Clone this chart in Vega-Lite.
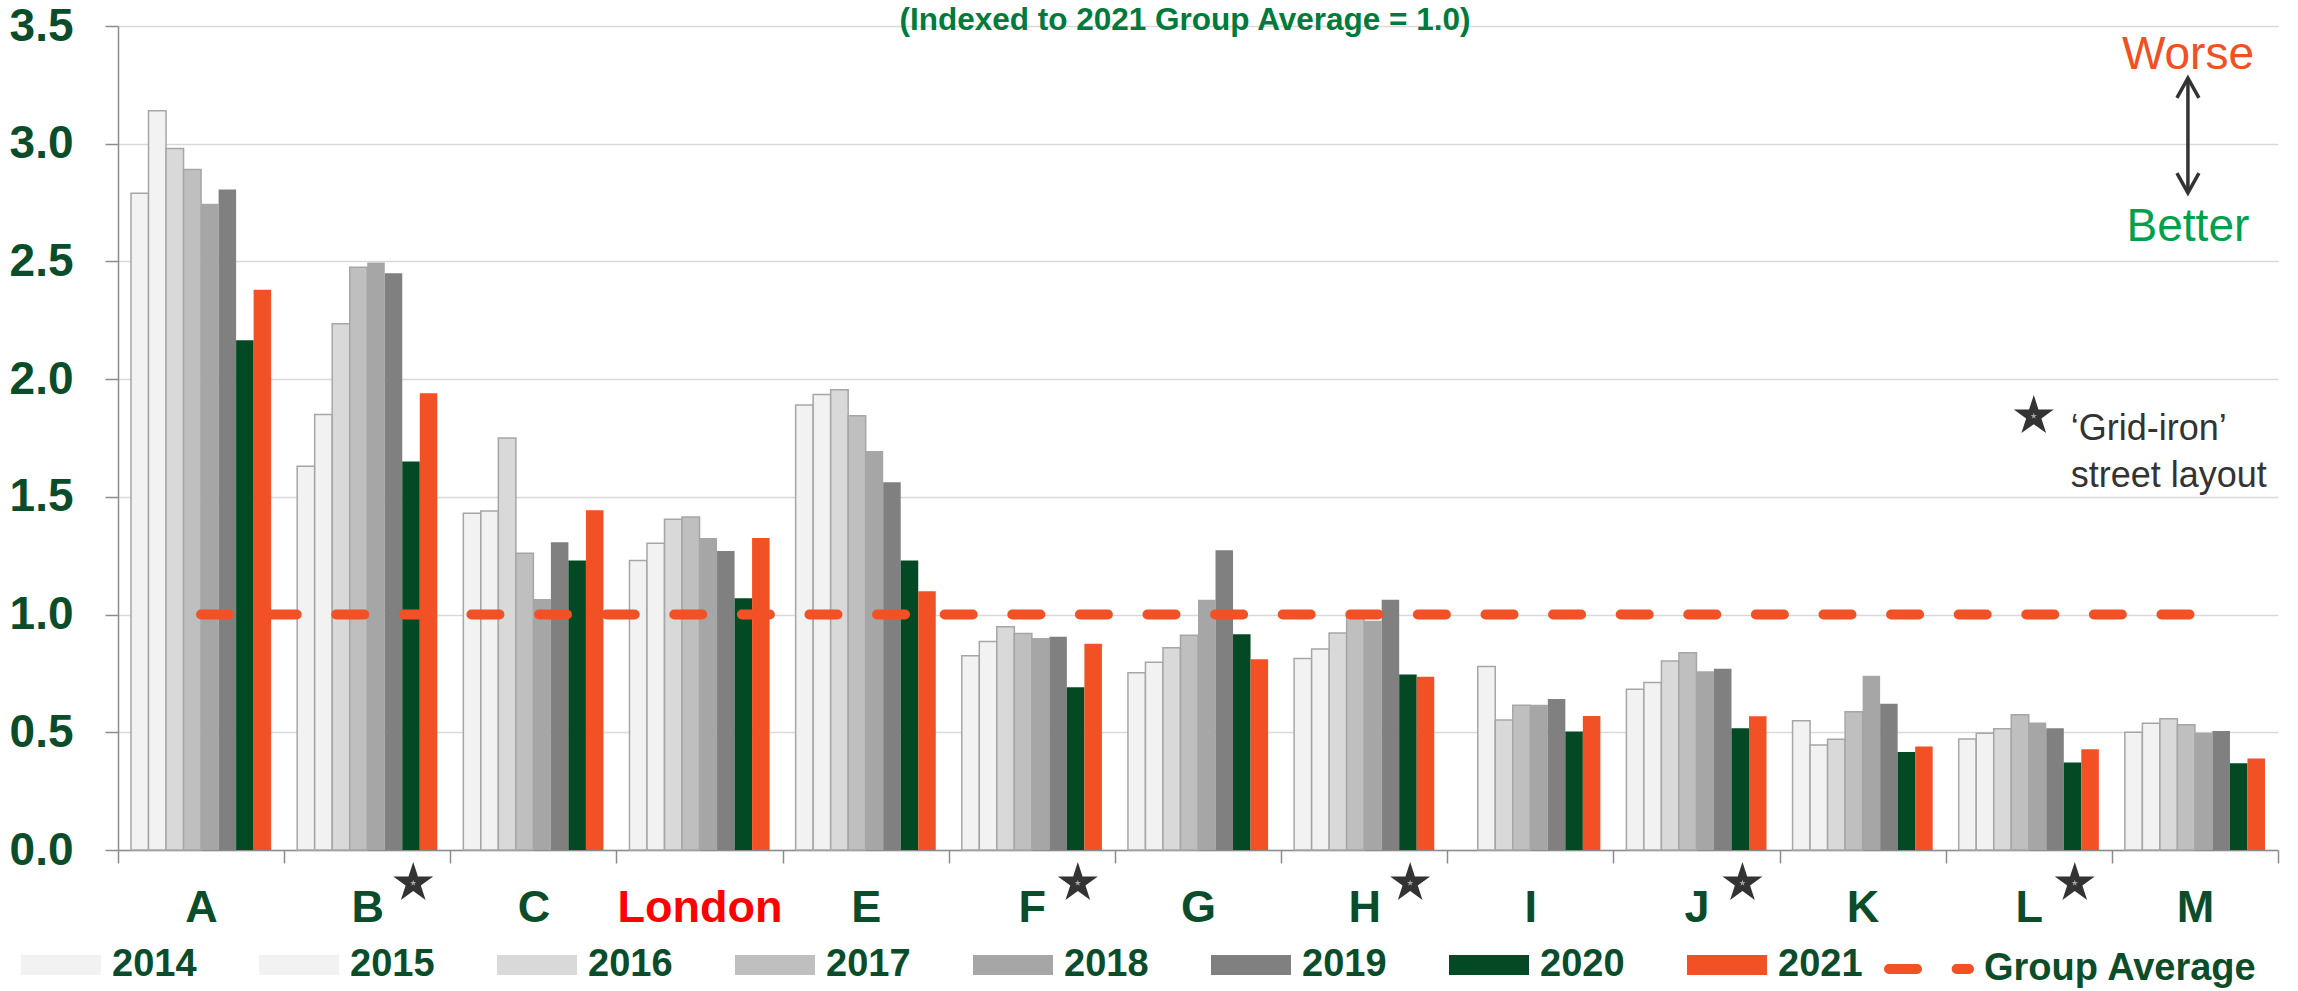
{
  "$schema": "https://vega.github.io/schema/vega-lite/v6.json",
  "autosize": {"type": "none"},
  "padding": {"left": 118, "top": 26, "right": 20, "bottom": 141},
  "width": 2160,
  "height": 824,
  "background": "white",
  "config": {"view": {"stroke": null}, "font": "Liberation Sans"},
  "datasets": {
    "bars": [
      {"city": "A", "year": "2014", "value": 2.79}, {"city": "A", "year": "2015", "value": 3.14}, {"city": "A", "year": "2016", "value": 2.98}, {"city": "A", "year": "2017", "value": 2.89}, {"city": "A", "year": "2018", "value": 2.745}, {"city": "A", "year": "2019", "value": 2.805}, {"city": "A", "year": "2020", "value": 2.165}, {"city": "A", "year": "2021", "value": 2.38},
      {"city": "B", "year": "2014", "value": 1.63}, {"city": "B", "year": "2015", "value": 1.85}, {"city": "B", "year": "2016", "value": 2.235}, {"city": "B", "year": "2017", "value": 2.475}, {"city": "B", "year": "2018", "value": 2.495}, {"city": "B", "year": "2019", "value": 2.45}, {"city": "B", "year": "2020", "value": 1.65}, {"city": "B", "year": "2021", "value": 1.94},
      {"city": "C", "year": "2014", "value": 1.43}, {"city": "C", "year": "2015", "value": 1.44}, {"city": "C", "year": "2016", "value": 1.75}, {"city": "C", "year": "2017", "value": 1.26}, {"city": "C", "year": "2018", "value": 1.066}, {"city": "C", "year": "2019", "value": 1.307}, {"city": "C", "year": "2020", "value": 1.23}, {"city": "C", "year": "2021", "value": 1.443},
      {"city": "London", "year": "2014", "value": 1.23}, {"city": "London", "year": "2015", "value": 1.303}, {"city": "London", "year": "2016", "value": 1.405}, {"city": "London", "year": "2017", "value": 1.414}, {"city": "London", "year": "2018", "value": 1.325}, {"city": "London", "year": "2019", "value": 1.27}, {"city": "London", "year": "2020", "value": 1.069}, {"city": "London", "year": "2021", "value": 1.325},
      {"city": "E", "year": "2014", "value": 1.89}, {"city": "E", "year": "2015", "value": 1.935}, {"city": "E", "year": "2016", "value": 1.955}, {"city": "E", "year": "2017", "value": 1.845}, {"city": "E", "year": "2018", "value": 1.695}, {"city": "E", "year": "2019", "value": 1.562}, {"city": "E", "year": "2020", "value": 1.23}, {"city": "E", "year": "2021", "value": 1.099},
      {"city": "F", "year": "2014", "value": 0.825}, {"city": "F", "year": "2015", "value": 0.886}, {"city": "F", "year": "2016", "value": 0.948}, {"city": "F", "year": "2017", "value": 0.92}, {"city": "F", "year": "2018", "value": 0.9}, {"city": "F", "year": "2019", "value": 0.906}, {"city": "F", "year": "2020", "value": 0.691}, {"city": "F", "year": "2021", "value": 0.876},
      {"city": "G", "year": "2014", "value": 0.753}, {"city": "G", "year": "2015", "value": 0.797}, {"city": "G", "year": "2016", "value": 0.859}, {"city": "G", "year": "2017", "value": 0.912}, {"city": "G", "year": "2018", "value": 1.063}, {"city": "G", "year": "2019", "value": 1.273}, {"city": "G", "year": "2020", "value": 0.916}, {"city": "G", "year": "2021", "value": 0.81},
      {"city": "H", "year": "2014", "value": 0.813}, {"city": "H", "year": "2015", "value": 0.854}, {"city": "H", "year": "2016", "value": 0.922}, {"city": "H", "year": "2017", "value": 0.99}, {"city": "H", "year": "2018", "value": 0.974}, {"city": "H", "year": "2019", "value": 1.063}, {"city": "H", "year": "2020", "value": 0.745}, {"city": "H", "year": "2021", "value": 0.736},
      {"city": "I", "year": "2015", "value": 0.779}, {"city": "I", "year": "2016", "value": 0.552}, {"city": "I", "year": "2017", "value": 0.615}, {"city": "I", "year": "2018", "value": 0.617}, {"city": "I", "year": "2019", "value": 0.641}, {"city": "I", "year": "2020", "value": 0.503}, {"city": "I", "year": "2021", "value": 0.569},
      {"city": "J", "year": "2014", "value": 0.683}, {"city": "J", "year": "2015", "value": 0.711}, {"city": "J", "year": "2016", "value": 0.803}, {"city": "J", "year": "2017", "value": 0.838}, {"city": "J", "year": "2018", "value": 0.759}, {"city": "J", "year": "2019", "value": 0.77}, {"city": "J", "year": "2020", "value": 0.517}, {"city": "J", "year": "2021", "value": 0.568},
      {"city": "K", "year": "2014", "value": 0.549}, {"city": "K", "year": "2015", "value": 0.446}, {"city": "K", "year": "2016", "value": 0.47}, {"city": "K", "year": "2017", "value": 0.587}, {"city": "K", "year": "2018", "value": 0.74}, {"city": "K", "year": "2019", "value": 0.621}, {"city": "K", "year": "2020", "value": 0.416}, {"city": "K", "year": "2021", "value": 0.44},
      {"city": "L", "year": "2014", "value": 0.471}, {"city": "L", "year": "2015", "value": 0.496}, {"city": "L", "year": "2016", "value": 0.515}, {"city": "L", "year": "2017", "value": 0.575}, {"city": "L", "year": "2018", "value": 0.542}, {"city": "L", "year": "2019", "value": 0.517}, {"city": "L", "year": "2020", "value": 0.372}, {"city": "L", "year": "2021", "value": 0.428},
      {"city": "M", "year": "2014", "value": 0.5}, {"city": "M", "year": "2015", "value": 0.538}, {"city": "M", "year": "2016", "value": 0.558}, {"city": "M", "year": "2017", "value": 0.532}, {"city": "M", "year": "2018", "value": 0.498}, {"city": "M", "year": "2019", "value": 0.505}, {"city": "M", "year": "2020", "value": 0.368}, {"city": "M", "year": "2021", "value": 0.389}
    ],
    "avg": [
      {"city": "A", "series": "Group Average", "value": 1.0}, {"city": "B", "series": "Group Average", "value": 1.0}, {"city": "C", "series": "Group Average", "value": 1.0}, {"city": "London", "series": "Group Average", "value": 1.0}, {"city": "E", "series": "Group Average", "value": 1.0}, {"city": "F", "series": "Group Average", "value": 1.0}, {"city": "G", "series": "Group Average", "value": 1.0}, {"city": "H", "series": "Group Average", "value": 1.0}, {"city": "I", "series": "Group Average", "value": 1.0}, {"city": "J", "series": "Group Average", "value": 1.0}, {"city": "K", "series": "Group Average", "value": 1.0}, {"city": "L", "series": "Group Average", "value": 1.0}, {"city": "M", "series": "Group Average", "value": 1.0}
    ],
    "grid": [{"city": "B"}, {"city": "F"}, {"city": "H"}, {"city": "J"}, {"city": "L"}]
  },
  "layer": [
    {
      "data": {"name": "bars"},
      "mark": {"type": "bar", "strokeWidth": 1.5},
      "encoding": {
        "x": {
          "field": "city", "type": "nominal",
          "scale": {"type": "band", "domain": ["A", "B", "C", "London", "E", "F", "G", "H", "I", "J", "K", "L", "M"], "paddingInner": 0, "paddingOuter": 0},
          "axis": {"title": null, "labelAngle": 0, "labelFontSize": 45, "labelFont": "Liberation Sans", "labelFontWeight": "bold", "labelColor": {"expr": "datum.value === 'London' ? '#ff0000' : '#0b4d2a'"}, "labelPadding": 22, "labelBaseline": "top", "ticks": true, "tickBand": "extent", "tickSize": 13, "tickColor": "#8c8c8c", "tickWidth": 1.5, "domainColor": "#8c8c8c", "domainWidth": 1.5, "grid": false}
        },
        "xOffset": {"field": "year", "type": "nominal", "scale": {"domain": ["2014", "2015", "2016", "2017", "2018", "2019", "2020", "2021"], "paddingOuter": 0.743, "paddingInner": 0}},
        "y": {
          "field": "value", "type": "quantitative",
          "scale": {"domain": [0, 3.5], "nice": false, "zero": true},
          "axis": {"title": null, "values": [0, 0.5, 1, 1.5, 2, 2.5, 3, 3.5], "format": ".1f", "labelFontSize": 46, "labelFont": "Liberation Sans", "labelFontWeight": "bold", "labelColor": "#0b4d2a", "labelPadding": 32, "tickSize": 13, "tickColor": "#8c8c8c", "tickWidth": 1.5, "domainColor": "#8c8c8c", "domainWidth": 1.5, "grid": true, "gridColor": "#d9d9d9", "gridWidth": 1.5}
        },
        "color": {
          "field": "year", "type": "nominal",
          "scale": {"domain": ["2014", "2015", "2016", "2017", "2018", "2019", "2020", "2021"], "range": ["#f2f2f2", "#f2f2f2", "#d9d9d9", "#bfbfbf", "#a6a6a6", "#808080", "#034a24", "#f15124"]},
          "legend": {
            "title": null, "orient": "none", "legendX": -98, "legendY": 898, "direction": "horizontal", "columns": 8, "columnPadding": 59,
            "symbolType": "M-1,-0.25H1V0.25H-1Z", "symbolSize": 6400, "labelOffset": 10, "labelFontSize": 38, "labelFont": "Liberation Sans", "labelFontWeight": "bold", "labelColor": "#0b4d2a", "symbolOpacity": 1, "symbolStrokeWidth": 1.5,
            "encode": {"symbols": {"update": {
              "fill": {"signal": "scale('color', datum.value)"},
              "stroke": {"signal": "indexof(['2014','2015','2016','2017'], datum.value) >= 0 ? '#a6a6a6' : 'transparent'"},
              "strokeWidth": {"value": 1.5},
              "opacity": {"value": 1},
              "fillOpacity": {"value": 1}
            }}}
          }
        },
        "stroke": {"condition": {"test": "indexof(['2014','2015','2016','2017'], datum.year) >= 0", "value": "#a6a6a6"}, "value": "transparent"}
      }
    },
    {
      "data": {"name": "avg"},
      "mark": {"type": "line", "strokeWidth": 10, "strokeCap": "round", "color": "#f15124"},
      "encoding": {
        "x": {"field": "city", "type": "nominal"},
        "y": {"field": "value", "type": "quantitative"},
        "strokeDash": {
          "field": "series", "type": "nominal",
          "scale": {"domain": ["Group Average"], "range": [[28, 39.6]]},
          "legend": {
            "title": null, "orient": "none", "legendX": 1766, "legendY": 898, "symbolType": "stroke", "symbolSize": 6400, "symbolStrokeWidth": 10, "symbolStrokeColor": "#f15124", "labelOffset": 10, "labelFontSize": 38, "labelFont": "Liberation Sans", "labelFontWeight": "bold", "labelColor": "#0b4d2a", "labelLimit": 400, "symbolOpacity": 1,
            "encode": {"symbols": {"update": {"strokeCap": {"value": "round"}, "stroke": {"value": "#f15124"}, "strokeWidth": {"value": 10}, "opacity": {"value": 1}}}}
          }
        }
      }
    },
    {
      "data": {"name": "grid"},
      "mark": {"type": "point", "shape": "M0,-1L0.2245,-0.309L0.951,-0.309L0.363,0.118L0.588,0.809L0,0.382L-0.588,0.809L-0.363,0.118L-0.951,-0.309L-0.2245,-0.309Z", "size": 1764, "filled": true, "fill": "#333333", "opacity": 1, "strokeWidth": 0, "xOffset": 46, "yOffset": 33},
      "encoding": {"x": {"field": "city", "type": "nominal"}, "y": {"datum": 0, "type": "quantitative"}}
    },
    {
      "data": {"name": "grid"},
      "mark": {"type": "point", "shape": "M0,-1L0.2245,-0.309L0.951,-0.309L0.363,0.118L0.588,0.809L0,0.382L-0.588,0.809L-0.363,0.118L-0.951,-0.309L-0.2245,-0.309Z", "size": 44, "filled": true, "fill": "#a0a8a8", "opacity": 1, "strokeWidth": 0, "xOffset": 46, "yOffset": 33},
      "encoding": {"x": {"field": "city", "type": "nominal"}, "y": {"datum": 0, "type": "quantitative"}}
    },
    {
      "data": {"values": [{}]},
      "mark": {"type": "text", "text": "(Indexed to 2021 Group Average = 1.0)", "font": "Liberation Sans", "fontSize": 31.5, "fontWeight": "bold", "color": "#007a3d", "align": "center", "baseline": "alphabetic", "xOffset": -13, "yOffset": 4},
      "encoding": {"x": {"datum": "G", "type": "nominal"}, "y": {"datum": 3.5, "type": "quantitative"}}
    },
    {
      "data": {"values": [{}]},
      "mark": {"type": "text", "text": "Worse", "font": "Liberation Sans", "fontSize": 46, "color": "#f05023", "align": "center", "baseline": "middle", "xOffset": -7},
      "encoding": {"x": {"datum": "M", "type": "nominal"}, "y": {"datum": 3.377, "type": "quantitative"}}
    },
    {
      "data": {"values": [{}]},
      "mark": {"type": "text", "text": "Better", "font": "Liberation Sans", "fontSize": 46, "color": "#00a04c", "align": "center", "baseline": "middle", "xOffset": -7},
      "encoding": {"x": {"datum": "M", "type": "nominal"}, "y": {"datum": 2.646, "type": "quantitative"}}
    },
    {
      "data": {"values": [{}]},
      "mark": {"type": "rule", "color": "#333333", "strokeWidth": 3.5, "xOffset": -7},
      "encoding": {"x": {"datum": "M", "type": "nominal"}, "y": {"datum": 3.275, "type": "quantitative"}, "y2": {"datum": 2.795}}
    },
    {
      "data": {"values": [{}]},
      "mark": {"type": "point", "shape": "M-1,1.8L0,0L1,1.8", "size": 484, "filled": false, "stroke": "#333333", "strokeWidth": 3.5, "opacity": 1, "xOffset": -7},
      "encoding": {"x": {"datum": "M", "type": "nominal"}, "y": {"datum": 3.279, "type": "quantitative"}}
    },
    {
      "data": {"values": [{}]},
      "mark": {"type": "point", "shape": "M-1,-1.8L0,0L1,-1.8", "size": 484, "filled": false, "stroke": "#333333", "strokeWidth": 3.5, "opacity": 1, "xOffset": -7},
      "encoding": {"x": {"datum": "M", "type": "nominal"}, "y": {"datum": 2.791, "type": "quantitative"}}
    },
    {
      "data": {"values": [{}]},
      "mark": {"type": "point", "shape": "M0,-1L0.2245,-0.309L0.951,-0.309L0.363,0.118L0.588,0.809L0,0.382L-0.588,0.809L-0.363,0.118L-0.951,-0.309L-0.2245,-0.309Z", "size": 1764, "filled": true, "fill": "#333333", "opacity": 1, "strokeWidth": 0, "xOffset": 5},
      "encoding": {"x": {"datum": "L", "type": "nominal"}, "y": {"datum": 1.843, "type": "quantitative"}}
    },
    {
      "data": {"values": [{}]},
      "mark": {"type": "point", "shape": "M0,-1L0.2245,-0.309L0.951,-0.309L0.363,0.118L0.588,0.809L0,0.382L-0.588,0.809L-0.363,0.118L-0.951,-0.309L-0.2245,-0.309Z", "size": 44, "filled": true, "fill": "#a0a8a8", "opacity": 1, "strokeWidth": 0, "xOffset": 5},
      "encoding": {"x": {"datum": "L", "type": "nominal"}, "y": {"datum": 1.843, "type": "quantitative"}}
    },
    {
      "data": {"values": [{}]},
      "mark": {"type": "text", "text": ["‘Grid-iron’", "street layout"], "font": "Liberation Sans", "fontSize": 36, "lineHeight": 47, "color": "#333333", "align": "left", "baseline": "middle", "xOffset": 42},
      "encoding": {"x": {"datum": "L", "type": "nominal"}, "y": {"datum": 1.79, "type": "quantitative"}}
    }
  ]
}
